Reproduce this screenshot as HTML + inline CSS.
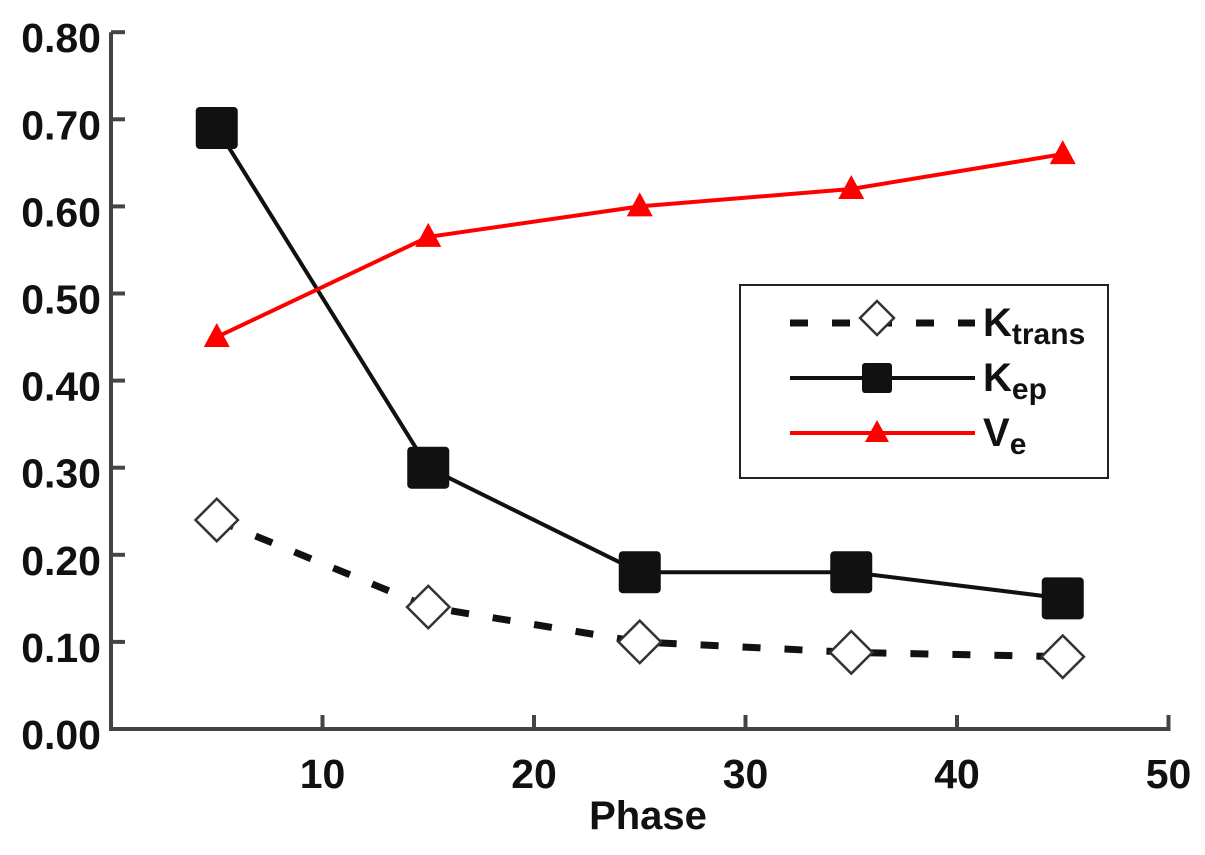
<!DOCTYPE html>
<html><head><meta charset="utf-8"><style>
body{margin:0;background:#fff}
text{font-family:"Liberation Sans",Arial,sans-serif;font-weight:bold;fill:#111}
</style></head><body>
<svg id="chart" width="1205" height="850" viewBox="0 0 1205 850" xmlns="http://www.w3.org/2000/svg">
<g id="axes"></g>
<g id="series"></g>
<g id="legend">
<rect x="740" y="285" width="368" height="193" fill="#fff" stroke="#222" stroke-width="2"/>
<line x1="790" y1="323" x2="975" y2="323" stroke="#111" stroke-width="7" stroke-dasharray="18,24"/>
<rect x="865" y="306" width="24" height="24" transform="rotate(45 877 318)" fill="#fff" stroke="#333" stroke-width="2.5"/>
<text x="983" y="336" font-size="40">K<tspan font-size="30" dy="8">trans</tspan></text>
<line x1="790" y1="378" x2="975" y2="378" stroke="#111" stroke-width="4"/>
<rect x="862" y="363" width="30" height="30" rx="3" fill="#111"/>
<text x="983" y="391" font-size="40">K<tspan font-size="30" dy="8">ep</tspan></text>
<line x1="790" y1="433" x2="975" y2="433" stroke="#f00" stroke-width="4"/>
<polygon points="877,420 865,442 889,442" fill="#f00"/>
<text x="983" y="446" font-size="40">V<tspan font-size="30" dy="8">e</tspan></text>
</g>
<text x="648" y="829" font-size="40" text-anchor="middle">Phase</text>
</svg>
<script>
const phases=[5,15,25,35,45];
const ktrans=[0.24,0.14,0.10,0.088,0.083];
const kep=[0.69,0.30,0.18,0.18,0.15];
const ve=[0.45,0.565,0.60,0.62,0.66];
const yTicks=["0.00","0.10","0.20","0.30","0.40","0.50","0.60","0.70","0.80"];
const xTicks=[10,20,30,40,50];
const NS="http://www.w3.org/2000/svg";
const X=v=>111+v*21.15;
const Y=v=>729-v*871;
function mk(tag,attrs,parent,txt){const e=document.createElementNS(NS,tag);for(const k in attrs)e.setAttribute(k,attrs[k]);if(txt!==undefined)e.textContent=txt;parent.appendChild(e);return e;}
const ax=document.getElementById('axes'),se=document.getElementById('series');
let a=mk('path',{d:`M111,${Y(0.8)} V729 H${X(50)+2}`,fill:'none',stroke:'#444','stroke-width':4},ax);


yTicks.forEach(t=>{const v=parseFloat(t);
 mk('line',{x1:111,x2:125,y1:Y(v),y2:Y(v),stroke:'#444','stroke-width':4},ax);
 const l=mk('text',{x:101,y:Y(v)+20,'font-size':41,'text-anchor':'end'},ax,t);
 
 });
xTicks.forEach(t=>{
 mk('line',{x1:X(t),x2:X(t),y1:729,y2:715,stroke:'#444','stroke-width':4},ax);
 const l=mk('text',{x:X(t),y:788,'font-size':41,'text-anchor':'middle'},ax,t);
 
 });
function pts(arr){return phases.map((p,i)=>X(p)+','+Y(arr[i])).join(' ');}
let l1=mk('polyline',{points:pts(ktrans),fill:'none',stroke:'#111','stroke-width':7,'stroke-dasharray':'18,24'},se);


let l2=mk('polyline',{points:pts(kep),fill:'none',stroke:'#111','stroke-width':4},se);


let l3=mk('polyline',{points:pts(ve),fill:'none',stroke:'#f00','stroke-width':4},se);


phases.forEach((p,i)=>{
 const x=X(p);
 let d=mk('rect',{x:x-15,y:Y(ktrans[i])-15,width:30,height:30,transform:`rotate(45 ${x} ${Y(ktrans[i])})`,fill:'#fff',stroke:'#333','stroke-width':2.5},se);
 
 
 let s=mk('rect',{x:x-21,y:Y(kep[i])-21,width:42,height:42,rx:4,fill:'#111'},se);
 
 
 const y=Y(ve[i]);
 let t=mk('polygon',{points:`${x},${y-14} ${x-13},${y+10} ${x+13},${y+10}`,fill:'#f00'},se);
 
 
});
</script>
</body></html>
